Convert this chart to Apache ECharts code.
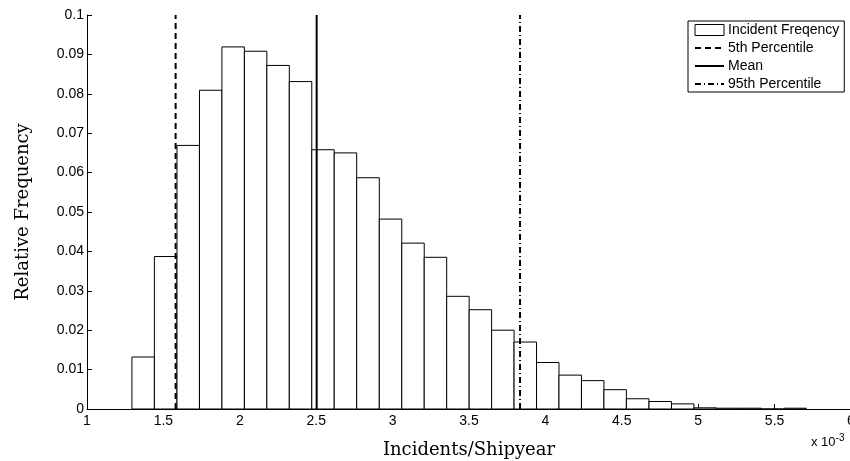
<!DOCTYPE html>
<html>
<head>
<meta charset="utf-8">
<script src="https://cdn.jsdelivr.net/npm/echarts@6/dist/echarts.min.js"></script>
<style>html,body{margin:0;padding:0;background:#fff;}#c{width:850px;height:461px;}</style>
</head>
<body>
<div id="c"></div>
<script>
// Histogram bin edges (units of 1e-3 incidents/shipyear)
var binLeft  = [1.294,1.441,1.589,1.736,1.883,2.030,2.177,2.324,2.471,2.618,2.765,2.913,3.060,3.207,3.354,3.501,3.648,3.795,3.942,4.089,4.236,4.383,4.530,4.678,4.825,4.972,5.119,5.266,5.413,5.560];
var binRight = [1.441,1.589,1.736,1.883,2.030,2.177,2.324,2.471,2.618,2.765,2.913,3.060,3.207,3.354,3.501,3.648,3.795,3.942,4.089,4.236,4.383,4.530,4.678,4.825,4.972,5.119,5.266,5.413,5.560,5.707];
var relFreq  = [0.0132,0.0387,0.0669,0.0809,0.0919,0.0908,0.0872,0.0831,0.0658,0.0650,0.0587,0.0482,0.0421,0.0385,0.0286,0.0252,0.0200,0.0170,0.0118,0.0086,0.0072,0.0049,0.0026,0.0019,0.0013,0.0003,0.0002,0.0002,0.0000,0.0002];
var p5 = 1.580;
var meanVal = 2.503;
var p95 = 3.834;
var xTicks = [1,1.5,2,2.5,3,3.5,4,4.5,5,5.5,6];
var yTicks = [0,0.01,0.02,0.03,0.04,0.05,0.06,0.07,0.08,0.09,0.1];

var histData = binLeft.map(function(l,i){return [l, binRight[i], relFreq[i]];});
function vline(x){return [[x,0],[x,0.1]];}

var chart = echarts.init(document.getElementById('c'));
var sans = '"Liberation Sans", Arial, sans-serif';
var serif = '"DejaVu Serif", "Liberation Serif", serif';
chart.setOption({
  animation:false,
  backgroundColor:'#fff',
  grid:{left:87, top:15, width:764, height:394, containLabel:false, outerBoundsMode:'none'},
  xAxis:{type:'value', min:xTicks[0], max:xTicks[xTicks.length-1], interval:0.5,
    axisLine:{lineStyle:{color:'#000',width:1}},
    axisTick:{inside:true,length:5,lineStyle:{color:'#000'}},
    axisLabel:{color:'#000',fontFamily:sans,fontSize:14,margin:5,formatter:function(v){return String(v);}},
    splitLine:{show:false},
    name:'Incidents/Shipyear', nameLocation:'middle', nameGap:32,
    nameTextStyle:{fontFamily:serif,fontSize:18,color:'#000',verticalAlign:'top'}},
  yAxis:{type:'value', min:yTicks[0], max:yTicks[yTicks.length-1], interval:0.01,
    axisLine:{show:true,lineStyle:{color:'#000',width:1}},
    axisTick:{show:true,inside:true,length:5,lineStyle:{color:'#000'}},
    axisLabel:{color:'#000',fontFamily:sans,fontSize:14,margin:3,formatter:function(v){return String(+v.toFixed(2));}},
    splitLine:{show:false},
    name:'Relative Frequency', nameLocation:'middle', nameGap:55,
    nameTextStyle:{fontFamily:serif,fontSize:18,color:'#000'}},
  legend:{orient:'vertical', left:688, top:21, padding:[2,5,1,6], itemGap:4,
    itemWidth:29, itemHeight:11, borderColor:'#000', borderWidth:1, backgroundColor:'#fff',
    textStyle:{fontFamily:sans,fontSize:14,color:'#000',padding:[0,0,0,-1]},
    data:[{name:'Incident Freqency',icon:'rect',itemStyle:{color:'#fff',borderColor:'#000',borderWidth:1}},
          {name:'5th Percentile',itemStyle:{opacity:0}},
          {name:'Mean',itemStyle:{opacity:0}},
          {name:'95th Percentile',itemStyle:{opacity:0}}]},
  series:[
    {name:'Incident Freqency', type:'custom', data:histData, encode:{x:[0,1],y:2},
     itemStyle:{color:'#fff',borderColor:'#000',borderWidth:1},
     renderItem:function(params,api){
       var p0 = api.coord([api.value(0), api.value(2)]);
       var p1 = api.coord([api.value(1), 0]);
       return {type:'rect', shape:{x:p0[0], y:p0[1], width:p1[0]-p0[0], height:p1[1]-p0[1]},
         style:{fill:'#fff', stroke:'#000', lineWidth:1}};
     }},
    {name:'5th Percentile', type:'line', data:vline(p5), symbol:'none', z:5,
     lineStyle:{color:'#000',width:2,type:[6,4]}, itemStyle:{color:'#000'}},
    {name:'Mean', type:'line', data:vline(meanVal), symbol:'none', z:5,
     lineStyle:{color:'#000',width:2,type:'solid'}, itemStyle:{color:'#000'}},
    {name:'95th Percentile', type:'line', data:vline(p95), symbol:'none', z:5,
     lineStyle:{color:'#000',width:2,type:[6,3,1,3]}, itemStyle:{color:'#000'}}
  ],
  graphic:[{type:'text', left:811, top:433,
    style:{text:'x 10{s|-3}', fontFamily:sans, fontSize:13, fill:'#000',
      rich:{s:{fontSize:10, verticalAlign:'top', padding:[0,0,9,0], fontFamily:sans}}}}]
});
</script>
</body>
</html>
